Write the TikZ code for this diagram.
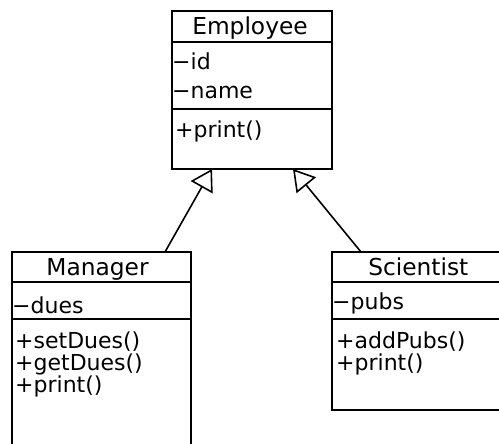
\documentclass[tikz,border=0pt]{standalone}
\usepackage{fontspec}
\setmainfont{DejaVu Sans}
\usetikzlibrary{arrows.meta}
\begin{document}
\begin{tikzpicture}[x=1pt,y=-1pt,
  box/.style={draw, line width=1.8pt, inner sep=0pt, outer sep=0pt, anchor=north west},
  rule/.style={line width=1.8pt},
  head/.style={anchor=base, inner sep=0pt, font=\fontsize{23.3}{28}\selectfont},
  item/.style={anchor=base west, inner sep=0pt, font=\fontsize{22}{26}\selectfont},
  inherit/.style={line width=1.6pt, -{Triangle[open, length=21pt, width=25pt]}}]
\useasboundingbox (0,0) rectangle (499,444);
\clip (0,0) rectangle (499,444);
% Employee
\node[box, minimum width=160pt, minimum height=158pt] (emp) at (172,11) {};
\draw[rule] ([yshift=-31pt]emp.north west) -- ([yshift=-31pt]emp.north east);
\draw[rule] ([yshift=-98pt]emp.north west) -- ([yshift=-98pt]emp.north east);
\node[head] (empt) at (250,34.7) {Employee};
\node[item] (empa1) at (172,69.7) {−id};
\node[item] (empa2) at (172,98.7) {−name};
\node[item] (empo1) at (175,137.7) {+print()};
% Manager
\node[box, minimum width=179pt, minimum height=230pt] (mgr) at (12,252) {};
\draw[rule] ([yshift=-30pt]mgr.north west) -- ([yshift=-30pt]mgr.north east);
\draw[rule] ([yshift=-67pt]mgr.north west) -- ([yshift=-67pt]mgr.north east);
\node[head] (mgrt) at (97.5,275) {Manager};
\node[item] (mgra1) at (12,313.3) {−dues};
\node[item] (mgro1) at (15,348.3) {+setDues()};
\node[item] (mgro2) at (15,370) {+getDues()};
\node[item] (mgro3) at (15,392.3) {+print()};
% Scientist
\node[box, minimum width=190pt, minimum height=158pt] (sci) at (332,252) {};
\draw[rule] ([yshift=-30pt]sci.north west) -- ([yshift=-30pt]sci.north east);
\draw[rule] ([yshift=-67pt]sci.north west) -- ([yshift=-67pt]sci.north east);
\node[head] (scit) at (418.3,275) {Scientist};
\node[item] (scia1) at (332,309) {−pubs};
\node[item] (scio1) at (336,348.3) {+addPubs()};
\node[item] (scio2) at (336,370) {+print()};
% generalizations
\draw[inherit] ([xshift=153pt]mgr.north west) -- ([xshift=40pt]emp.south west);
\draw[inherit] ([xshift=29pt]sci.north west) -- ([xshift=121pt]emp.south west);
\end{tikzpicture}
\end{document}
